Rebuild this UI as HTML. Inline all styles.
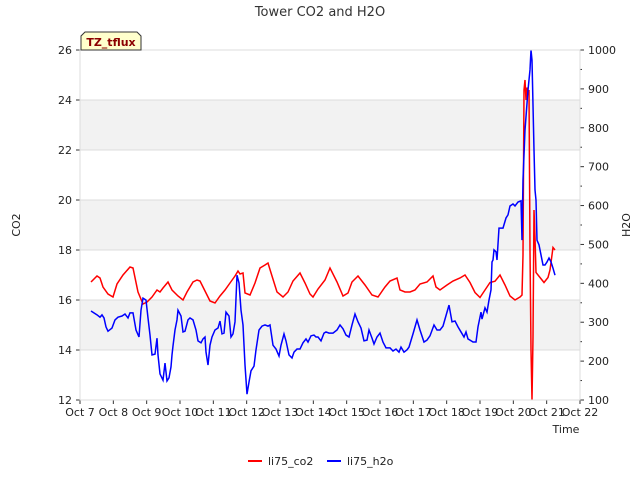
<!DOCTYPE html>
<html><head><meta charset="utf-8"><style>
body{margin:0;background:#fff;}
svg{font-family:"DejaVu Sans","Liberation Sans",sans-serif;}
</style></head><body>
<svg id="chart" width="640" height="480" viewBox="0 0 640 480">
<g id="bands"></g>
<g id="grid"></g>
<g id="series"></g>
<g id="axes"></g>
<text x="320" y="16" text-anchor="middle" font-size="13" fill="#333">Tower CO2 and H2O</text>
<text x="20" y="225" text-anchor="middle" font-size="11" fill="#222" transform="rotate(-90 20 225)">CO2</text>
<text x="630" y="225" text-anchor="middle" font-size="11" fill="#222" transform="rotate(-90 630 225)">H2O</text>
<text x="566" y="433" text-anchor="middle" font-size="11" fill="#222">Time</text>
<g>
<path d="M81,50 L81,36 L85,32 L137,32 L141,36 L141,50 Z" fill="#ffffcc" stroke="#333" stroke-width="1"/>
<text x="111" y="46" text-anchor="middle" font-size="11" font-weight="bold" fill="#8b0000">TZ_tflux</text>
</g>
<g>
<g><line x1="248" y1="461" x2="262" y2="461" stroke="red" stroke-width="2"/><text x="268" y="465" font-size="11" fill="#222">li75_co2</text></g>
<g><line x1="327" y1="461" x2="341" y2="461" stroke="blue" stroke-width="2"/><text x="347" y="465" font-size="11" fill="#222">li75_h2o</text></g>
</g>
</svg>
<script>
const xTickLabels=["Oct 7","Oct 8","Oct 9","Oct 10","Oct 11","Oct 12","Oct 13","Oct 14","Oct 15","Oct 16","Oct 17","Oct 18","Oct 19","Oct 20","Oct 21","Oct 22"];
const co2Ticks=[12,14,16,18,20,22,24,26];
const h2oTicks=[100,200,300,400,500,600,700,800,900,1000];
const co2Days=[0.33,0.51,0.6,0.69,0.84,0.99,1.11,1.29,1.5,1.59,1.74,1.89,2.01,2.16,2.31,2.4,2.49,2.64,2.76,2.94,3.09,3.21,3.39,3.51,3.6,3.72,3.9,4.05,4.2,4.35,4.5,4.65,4.74,4.8,4.89,4.95,5.1,5.25,5.4,5.55,5.64,5.76,5.91,6.09,6.24,6.39,6.6,6.75,6.9,6.99,7.14,7.35,7.5,7.71,7.89,8.04,8.16,8.34,8.55,8.76,8.94,9.15,9.3,9.51,9.6,9.75,9.9,10.05,10.2,10.41,10.59,10.68,10.8,11.01,11.19,11.4,11.55,11.7,11.85,12.0,12.15,12.3,12.45,12.6,12.75,12.9,13.05,13.2,13.26,13.29,13.32,13.35,13.38,13.41,13.44,13.47,13.5,13.53,13.56,13.59,13.62,13.65,13.68,13.8,13.92,14.04,14.1,14.19,14.25];
const co2Values=[16.72,16.96,16.88,16.52,16.24,16.12,16.64,17.0,17.32,17.28,16.32,15.84,15.92,16.12,16.4,16.32,16.48,16.72,16.4,16.16,16.0,16.32,16.72,16.8,16.76,16.44,15.96,15.88,16.16,16.4,16.68,16.96,17.16,17.04,17.08,16.28,16.2,16.68,17.28,17.4,17.48,16.96,16.32,16.12,16.32,16.76,17.08,16.68,16.24,16.12,16.44,16.8,17.28,16.72,16.16,16.28,16.72,16.96,16.6,16.2,16.12,16.52,16.76,16.88,16.4,16.32,16.32,16.4,16.64,16.72,16.96,16.52,16.4,16.6,16.76,16.88,17.0,16.7,16.3,16.1,16.4,16.7,16.75,17.0,16.6,16.16,16.0,16.12,16.2,17.8,24.4,24.8,24.0,24.5,24.2,24.4,18.0,14.0,12.0,14.5,19.6,18.5,17.1,16.9,16.7,16.9,17.2,18.1,18.0];
const h2oDays=[0.33,0.51,0.6,0.66,0.72,0.78,0.84,0.96,1.05,1.14,1.26,1.35,1.44,1.5,1.59,1.68,1.77,1.83,1.89,1.98,2.04,2.1,2.16,2.25,2.31,2.34,2.4,2.49,2.55,2.61,2.67,2.73,2.76,2.79,2.85,2.91,2.94,3.03,3.09,3.15,3.24,3.3,3.39,3.48,3.54,3.63,3.69,3.75,3.78,3.84,3.9,3.96,4.05,4.14,4.2,4.26,4.32,4.38,4.47,4.53,4.59,4.65,4.71,4.77,4.83,4.89,4.95,5.01,5.07,5.13,5.22,5.28,5.37,5.46,5.55,5.64,5.7,5.79,5.88,5.97,6.03,6.12,6.18,6.27,6.36,6.42,6.51,6.6,6.69,6.78,6.84,6.93,7.02,7.08,7.14,7.23,7.32,7.38,7.47,7.59,7.71,7.8,7.89,7.98,8.07,8.16,8.25,8.34,8.43,8.52,8.61,8.67,8.76,8.82,8.91,9.0,9.09,9.18,9.3,9.39,9.48,9.57,9.63,9.72,9.81,9.87,9.99,10.11,10.2,10.32,10.41,10.5,10.62,10.71,10.8,10.89,11.01,11.07,11.16,11.25,11.34,11.43,11.52,11.58,11.64,11.7,11.79,11.88,11.94,12.03,12.06,12.15,12.21,12.27,12.33,12.36,12.39,12.42,12.48,12.51,12.57,12.69,12.78,12.84,12.9,12.99,13.05,13.14,13.23,13.26,13.29,13.35,13.44,13.5,13.53,13.56,13.62,13.65,13.68,13.71,13.77,13.83,13.89,13.95,14.01,14.07,14.13,14.19,14.25];
const h2oValues=[329,319,313,319,311,288,277,285,306,313,316,321,311,324,324,280,262,331,362,357,311,267,216,218,259,216,167,151,195,149,157,185,216,239,280,306,331,316,275,277,306,311,306,280,252,247,257,262,223,190,241,262,280,285,303,270,272,326,316,262,270,301,421,401,331,293,190,115,146,175,187,229,280,290,293,290,293,241,231,213,241,270,252,216,208,223,231,231,247,257,249,265,267,262,262,252,272,275,272,272,280,293,283,267,262,293,321,301,285,252,254,280,259,244,262,272,249,234,234,226,231,223,236,223,229,236,270,306,280,249,254,265,293,280,280,290,326,344,301,303,288,275,262,275,257,254,249,249,288,326,308,337,326,357,383,455,460,486,481,460,542,542,568,576,599,604,599,609,612,511,666,794,897,949,1000,974,743,640,614,511,499,473,447,447,455,465,455,439,421];

const L=80,R=580,T=50,B=400;
const xScale=d=>L+(R-L)*d/15;
const yCO2=v=>B-(v-12)*(B-T)/14;
const yH2O=v=>B-(v-100)*(B-T)/900;
const NS="http://www.w3.org/2000/svg";
function mk(tag,attrs,parent){const e=document.createElementNS(NS,tag);for(const k in attrs)e.setAttribute(k,attrs[k]);parent.appendChild(e);return e;}
const bands=document.getElementById('bands'),grid=document.getElementById('grid'),axes=document.getElementById('axes'),series=document.getElementById('series');
mk('rect',{x:L,y:T,width:R-L,height:B-T,fill:'#fff'},bands);
for(let i=0;i<co2Ticks.length-1;i++){
  if(i%2===1){const r=mk('rect',{x:L,y:yCO2(co2Ticks[i+1]),width:R-L,height:yCO2(co2Ticks[i])-yCO2(co2Ticks[i+1]),fill:'#f2f2f2'},bands);
  
  }
}
co2Ticks.forEach(v=>{
  const y=yCO2(v);
  mk('line',{x1:L,x2:R,y1:y,y2:y,stroke:'#dcdcdc','stroke-width':1},grid);
  mk('line',{x1:L-4,x2:L,y1:y,y2:y,stroke:'#333'},axes);
  const t=mk('text',{x:L-8,y:y+4,'text-anchor':'end','font-size':11,fill:'#222'},axes);t.textContent=v;
  
  
});
xTickLabels.forEach((s,i)=>{
  const x=xScale(i);
  mk('line',{x1:x,x2:x,y1:B,y2:B+4,stroke:'#333'},axes);
  const t=mk('text',{x:x,y:B+16,'text-anchor':'middle','font-size':11,fill:'#222'},axes);t.textContent=s;
  
  
});
h2oTicks.forEach(v=>{
  const y=yH2O(v);
  mk('line',{x1:R,x2:R+4,y1:y,y2:y,stroke:'#333'},axes);
  if(v<1000){const ym=yH2O(v+50);mk('line',{x1:R,x2:R+2,y1:ym,y2:ym,stroke:'#333'},axes);}
  const t=mk('text',{x:R+8,y:y+4,'text-anchor':'start','font-size':11,fill:'#222'},axes);t.textContent=v;
  
  
});
mk('rect',{x:L,y:T,width:R-L,height:B-T,fill:'none',stroke:'#dcdcdc'},axes);
const co2Line=mk('polyline',{points:co2Days.map((d,i)=>xScale(d)+','+yCO2(co2Values[i])).join(' '),fill:'none',stroke:'red','stroke-width':1.5},series);


const h2oLine=mk('polyline',{points:h2oDays.map((d,i)=>xScale(d)+','+yH2O(h2oValues[i])).join(' '),fill:'none',stroke:'blue','stroke-width':1.5},series);


</script>
</body></html>
